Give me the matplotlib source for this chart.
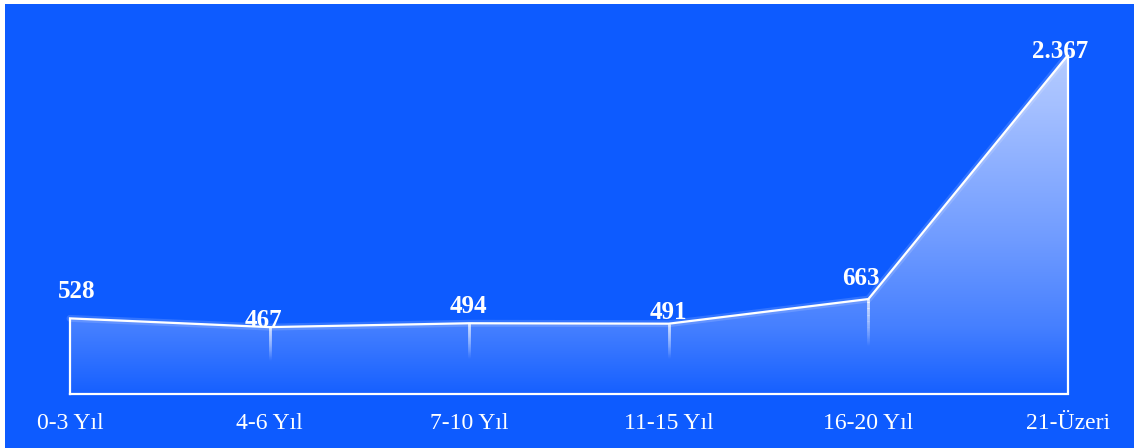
import numpy as np
import matplotlib.pyplot as plt
from matplotlib.patches import Polygon, Rectangle
from matplotlib.colors import LinearSegmentedColormap
from matplotlib.collections import LineCollection

categories = ["0-3 Yıl", "4-6 Yıl", "7-10 Yıl", "11-15 Yıl", "16-20 Yıl", "21-Üzeri"]
values = [528, 467, 494, 491, 663, 2367]
value_labels = ["528", "467", "494", "491", "663", "2.367"]

# label offsets in pixels (dx, dy) relative to each point
label_offsets = [(7, 27), (-6, 7), (-1, 17), (0, 11), (-8, 21), (-8, 3)]

BG = "#0d5bff"
plt.rcParams["font.family"] = ["Liberation Serif", "DejaVu Serif"]

fig = plt.figure(figsize=(11.34, 4.48), dpi=100)
fig.patch.set_facecolor("white")
fig.patches.append(Rectangle((5 / 1134, 0), 1 - 5 / 1134, 1 - 4 / 448,
                             transform=fig.transFigure, facecolor=BG,
                             edgecolor="none", zorder=-10))

ax = fig.add_axes([0, 0, 1, 1])
ax.set_facecolor("none")
ax.axis("off")

step = 199.6
ax.set_xlim(-70 / step, 5 + (1134 - 1068) / step)
upp = 2367 / 339.0  # data units per pixel
ax.set_ylim(-54 * upp, (448 - 54) * upp)

x = np.arange(len(values))
y = np.array(values, dtype=float)

# gradient fill clipped to the area
verts = [(x[0], 0)] + list(zip(x, y)) + [(x[-1], 0)]
poly = Polygon(verts, closed=True, facecolor="none", edgecolor="none")
ax.add_patch(poly)
cmap = LinearSegmentedColormap.from_list(
    "g", [(0, "#1660ff"), (0.2, "#4680ff"), (0.45, "#6f9bff"),
          (0.85, "#a5c0ff"), (1, "#b4cbff")])
grad = np.linspace(0, 1, 256).reshape(-1, 1)
im = ax.imshow(grad, cmap=cmap, origin="lower", aspect="auto",
               extent=(x[0], x[-1], 0, y.max()), zorder=1)
im.set_clip_path(poly)

# soft glow under the line
ax.plot(x, y, color="white", lw=5, alpha=0.15, zorder=2, solid_capstyle="round")
# outline
ox = [x[0]] + list(x) + [x[-1], x[0]]
oy = [0] + list(y) + [0, 0]
ax.plot(ox, oy, color="white", lw=1.6, zorder=3, solid_joinstyle="miter")

# fading vertical lines at inner points
for xi, yi in zip(x[1:-1], y[1:-1]):
    n = 40
    ys = np.linspace(yi, yi * 0.5, n + 1)
    segs = [[(xi, ys[k]), (xi, ys[k + 1])] for k in range(n)]
    alphas = np.linspace(1, 0, n)
    cols = [(1, 1, 1, a) for a in alphas]
    ax.add_collection(LineCollection(segs, colors=cols, linewidths=2, zorder=3))

# value labels
for xi, yi, lab, (dx, dy) in zip(x, y, value_labels, label_offsets):
    ax.annotate(lab, (xi, yi), xytext=(dx, dy), textcoords="offset pixels",
                ha="center", va="center", color="white", fontsize=18,
                fontweight="bold", zorder=4)

# category labels
for xi, cat in zip(x, categories):
    ax.text(xi, -29 * upp, cat, ha="center", va="center", color="white",
            fontsize=17, zorder=4)

fig.savefig("out.png", dpi=100, facecolor=fig.get_facecolor())
